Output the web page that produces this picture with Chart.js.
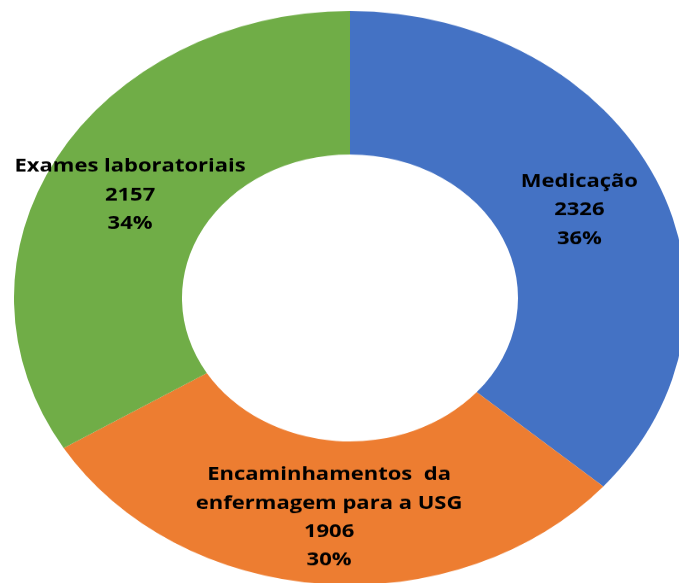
<!DOCTYPE html>
<html lang="pt-BR">
<head>
    <meta charset="UTF-8">
    <title>Atendimentos</title>
    <script src="https://cdn.jsdelivr.net/npm/chart.js"></script>
    <style>
        html, body { margin: 0; padding: 0; background: #ffffff; overflow: hidden; width: 679px; height: 583px; }
        /* o gráfico original está achatado na vertical */
        #wrap { position: absolute; left: 14px; top: 11px; width: 672px; height: 672px;
                transform: scaleY(0.854); transform-origin: 0 0; }
    </style>
</head>
<body>
    <div id="wrap">
        <canvas id="donut" width="672" height="672"></canvas>
    </div>

    <script>
        // dados
        const categorias = ['Medicação', ['Encaminhamentos  da', 'enfermagem para a USG'], 'Exames laboratoriais'];
        const valores = [2326, 1906, 2157];
        const cores = ['#4472C4', '#ED7D31', '#70AD47'];

        // ajuste vertical dos rótulos (px do canvas)
        const deslocY = [1.5, 6, 2.5];

        const rotulos = {
            id: 'rotulos',
            afterDatasetsDraw(chart) {
                const ctx = chart.ctx;
                const meta = chart.getDatasetMeta(0);
                const total = valores.reduce((a, b) => a + b, 0);
                ctx.save();
                ctx.fillStyle = '#000000';
                ctx.font = 'bold 22px "Open Sans"';
                ctx.textAlign = 'center';
                ctx.textBaseline = 'middle';
                meta.data.forEach((arc, i) => {
                    const pos = arc.tooltipPosition();
                    const nome = Array.isArray(categorias[i]) ? categorias[i] : [categorias[i]];
                    const linhas = nome.concat([String(valores[i]), Math.round(valores[i] / total * 100) + '%']);
                    const alt = 33.4;
                    const y0 = pos.y + deslocY[i] - (linhas.length - 1) * alt / 2;
                    linhas.forEach((t, k) => ctx.fillText(t, pos.x, y0 + k * alt));
                });
                ctx.restore();
            }
        };

        new Chart(document.getElementById('donut'), {
            type: 'doughnut',
            data: {
                labels: categorias,
                datasets: [{ data: valores, backgroundColor: cores, borderWidth: 0 }]
            },
            options: {
                responsive: false,
                animation: false,
                cutout: '50%',
                plugins: { legend: { display: false }, tooltip: { enabled: false } }
            },
            plugins: [rotulos]
        });
    </script>
</body>
</html>
